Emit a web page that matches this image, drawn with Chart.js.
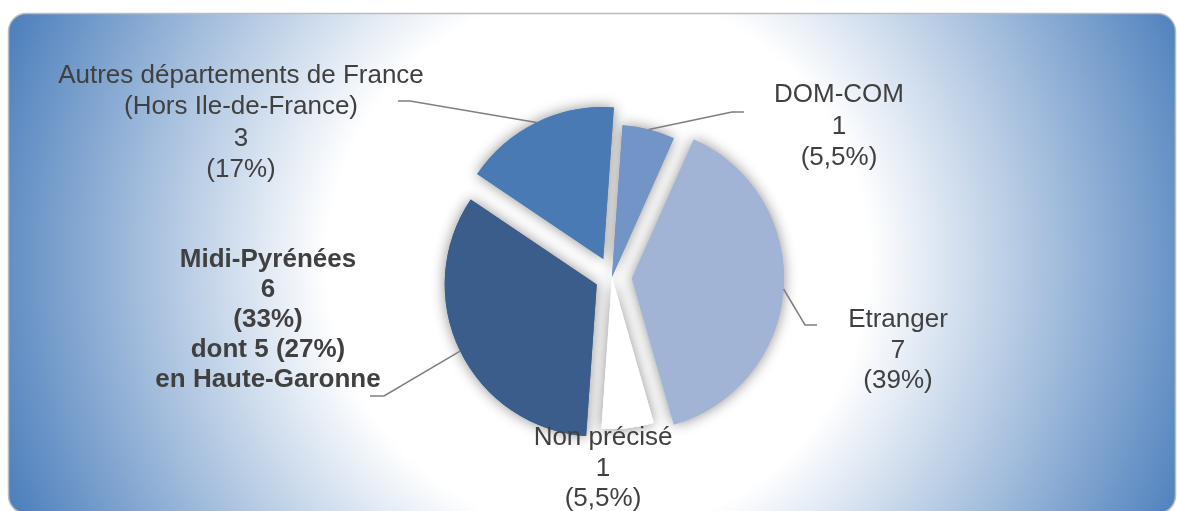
<!DOCTYPE html>
<html>
<head>
<meta charset="utf-8">
<script src="https://cdn.jsdelivr.net/npm/chart.js@4"></script>
<style>
  html, body { margin: 0; padding: 0; background: #ffffff; }
  #wrap { width: 1177px; height: 511px; }
</style>
</head>
<body>
<div id="wrap"><canvas id="grafico" width="1177" height="511"></canvas></div>
<script>
// Données
const categories = ['DOM-COM', 'Etranger', 'Non précisé', 'Midi-Pyrénées', 'Autres départements de France'];
const effectifs = [1, 7, 1, 6, 3];
const pourcentages = ['(5,5%)', '(39%)', '(5,5%)', '(33%)', '(17%)'];
const nomLignes = [['DOM-COM'], ['Etranger'], ['Non précisé'], ['Midi-Pyrénées'], ['Autres départements de France', '(Hors Ile-de-France)']];
const lignesSup = [[], [], [], ['dont 5 (27%)', 'en Haute-Garonne'], []];

// Style et mise en page
const couleurs = ['#7294c6', '#a2b4d6', '#ffffff', '#3a5d8b', '#4a7ab4'];
const eclatement = [0, 20, 0, 17, 20];
const etiquettes = [
  { x: 839, y: 95, pas: 31.5, coude: [732, 112], fin: [744, 112] },
  { x: 898, y: 320, pas: 30.5, coude: [805, 325], fin: [817, 325] },
  { x: 603, y: 438, pas: 30.5, coude: null },
  { x: 268, y: 260, pas: 30, gras: true, coude: [384, 396], fin: [370, 396] },
  { x: 241, y: 76, pas: 31.3, coude: [410, 101], fin: [398, 101] }
];
const FONTE = '"Liberation Sans", Arial, sans-serif';

function rectArrondi(ctx, x, y, w, h, r) {
  ctx.beginPath();
  ctx.moveTo(x + r, y);
  ctx.arcTo(x + w, y, x + w, y + h, r);
  ctx.arcTo(x + w, y + h, x, y + h, r);
  ctx.arcTo(x, y + h, x, y, r);
  ctx.arcTo(x, y, x + w, y, r);
  ctx.closePath();
}

// Fond dégradé radial
const fond = {
  id: 'fond',
  beforeDraw(chart) {
    const ctx = chart.ctx;
    ctx.save();
    rectArrondi(ctx, 8.5, 13.5, 1167, 500, 18);
    const g = ctx.createRadialGradient(598, 262, 0, 598, 262, 630);
    g.addColorStop(0, '#ffffff');
    g.addColorStop(0.43, '#ffffff');
    g.addColorStop(1, '#4f81bd');
    ctx.fillStyle = g;
    ctx.fill();
    ctx.strokeStyle = '#bcbcbc';
    ctx.lineWidth = 1.5;
    ctx.stroke();
    ctx.restore();
  }
};

// Parts éclatées : décalage le long de la bissectrice
const eclater = {
  id: 'eclater',
  afterDatasetsUpdate(chart) {
    const meta = chart.getDatasetMeta(0);
    meta.data.forEach((arc, i) => {
      const mid = (arc.startAngle + arc.endAngle) / 2;
      arc.x += Math.cos(mid) * eclatement[i];
      arc.y += Math.sin(mid) * eclatement[i];
    });
  }
};

// Ombre douce sous toutes les parts
const ombre = {
  id: 'ombre',
  beforeDatasetsDraw(chart) {
    const ctx = chart.ctx;
    const meta = chart.getDatasetMeta(0);
    ctx.save();
    ctx.shadowColor = 'rgba(0, 0, 0, 0.45)';
    ctx.shadowBlur = 14;
    meta.data.forEach(arc => arc.draw(ctx));
    ctx.restore();
  }
};

// Étiquettes et lignes de rappel
const etiquettesPlugin = {
  id: 'etiquettes',
  afterDraw(chart) {
    const ctx = chart.ctx;
    const meta = chart.getDatasetMeta(0);
    ctx.save();
    meta.data.forEach((arc, i) => {
      const e = etiquettes[i];
      if (e.coude) {
        const mid = (arc.startAngle + arc.endAngle) / 2;
        const px = arc.x + Math.cos(mid) * arc.outerRadius;
        const py = arc.y + Math.sin(mid) * arc.outerRadius;
        ctx.beginPath();
        ctx.moveTo(px, py);
        ctx.lineTo(e.coude[0], e.coude[1]);
        ctx.lineTo(e.fin[0], e.fin[1]);
        ctx.strokeStyle = '#7f7f7f';
        ctx.lineWidth = 1.5;
        ctx.stroke();
      }
      const lignes = [...nomLignes[i], String(effectifs[i]), pourcentages[i], ...lignesSup[i]];
      ctx.font = (e.gras ? 'bold ' : '') + '26px ' + FONTE;
      ctx.fillStyle = '#404040';
      ctx.textAlign = 'center';
      ctx.textBaseline = 'middle';
      lignes.forEach((t, k) => ctx.fillText(t, e.x, e.y + k * e.pas));
    });
    ctx.restore();
  }
};

const ctx = document.getElementById('grafico').getContext('2d');
const chart = new Chart(ctx, {
  type: 'pie',
  data: {
    labels: categories,
    datasets: [{
      data: effectifs,
      backgroundColor: couleurs,
      borderWidth: 0
    }]
  },
  options: {
    responsive: false,
    animation: false,
    events: [],
    rotation: 4,
    radius: 152,
    layout: { padding: { left: 47, top: 43, right: 0, bottom: 0 } },
    plugins: {
      legend: { display: false },
      tooltip: { enabled: false }
    }
  },
  plugins: [fond, eclater, ombre, etiquettesPlugin]
});
</script>
</body>
</html>
